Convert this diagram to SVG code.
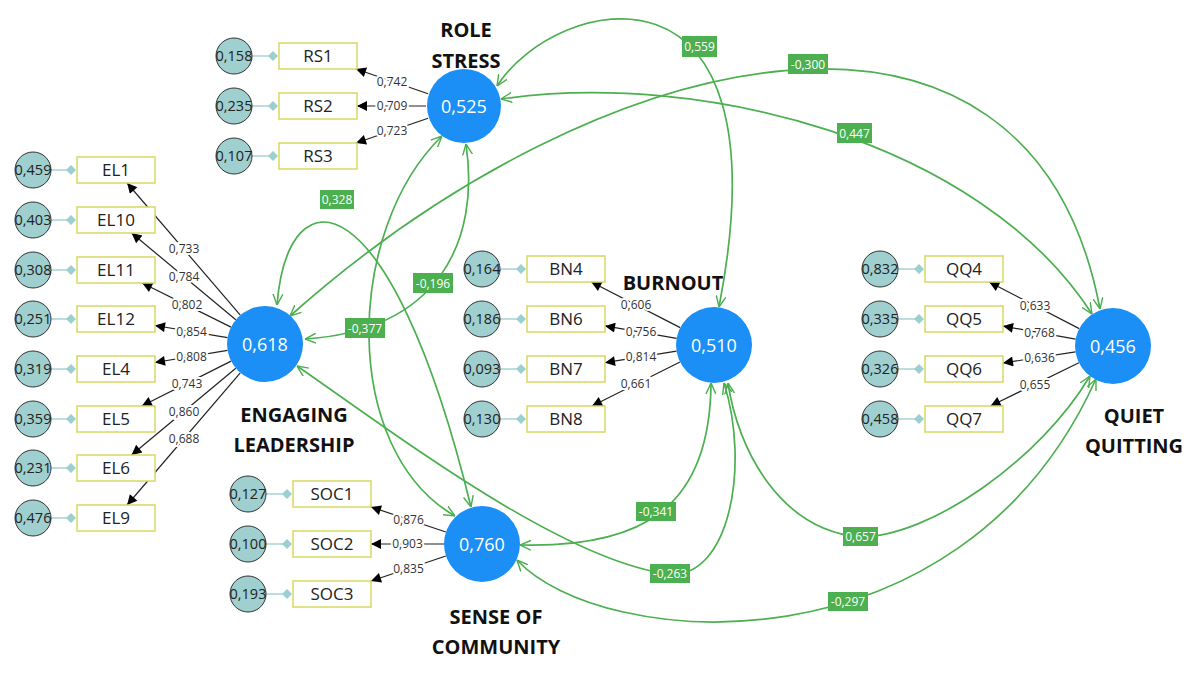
<svg xmlns="http://www.w3.org/2000/svg" width="1200" height="675" viewBox="0 0 1200 675">
<defs>
<style>
.lat{fill:#1b8ff5}
.lv{font-family:"Open Sans","Noto Sans",sans-serif;font-size:18px;fill:#fff;text-anchor:middle}
.ttl{font-family:"Open Sans","Noto Sans",sans-serif;font-size:20px;font-weight:bold;fill:#111;text-anchor:middle}
.box{fill:#fff;stroke:#d8d860;stroke-width:1.5}
.bt{font-family:"Open Sans","Noto Sans",sans-serif;font-size:17px;fill:#222;text-anchor:middle}
.err{fill:#9fcfcf;stroke:#333;stroke-width:1}
.et{font-family:"Open Sans","Noto Sans",sans-serif;font-size:14.5px;fill:#222;text-anchor:middle}
.el{stroke:#a6d3d3;stroke-width:1.5}
.dm{fill:#9ccfd0}
.ld{stroke:#222;stroke-width:1.2;fill:none;marker-end:url(#ba)}
.lt{font-family:"Open Sans","Noto Sans",sans-serif;font-size:12px;fill:#333;text-anchor:middle;stroke:#fff;stroke-width:4;paint-order:stroke}
.gc{fill:none;stroke:#4caf50;stroke-width:1.7;marker-start:url(#ga);marker-end:url(#ga)}
.gl{fill:#4caf50}
.gt{font-family:"Open Sans","Noto Sans",sans-serif;font-size:12px;fill:#fff;text-anchor:middle}
</style>
<marker id="ga" viewBox="0 0 10 10" refX="10" refY="5" markerWidth="11" markerHeight="11" markerUnits="userSpaceOnUse" orient="auto-start-reverse"><path d="M0,0.5 L10,5 L0,9.5" fill="none" stroke="#4caf50" stroke-width="1.3"/></marker>
<marker id="ba" viewBox="0 0 10 10" refX="10" refY="5" markerWidth="12" markerHeight="10" markerUnits="userSpaceOnUse" orient="auto"><path d="M0,0 L10,5 L0,10 z" fill="#000"/></marker>
</defs>
<rect width="1200" height="675" fill="#fff"/>

<g id="connectors">
<path class="gc" d="M497,86 C555,-5 790,-60 719,307"/>
<path class="gc" d="M290,316 C600,40 1030,-60 1100,309"/>
<path class="gc" d="M501,99 C700,70 980,140 1092,314"/>
<path class="gc" d="M277,305 C288,170 390,175 471,507"/>
<path class="gc" d="M442,136 C345,230 340,450 455,516"/>
<path class="gc" d="M466,144 C480,240 440,330 305,339"/>
<path class="gc" d="M520,545 C640,548 710,510 711,383"/>
<path class="gc" d="M297,366 C390,430 560,560 668,574 C730,580 750,465 724,383"/>
<path class="gc" d="M728,383 C738,450 780,530 860,537 C930,537 1040,460 1090,376"/>
<path class="gc" d="M517,560 C600,650 960,680 1096,379"/>

<rect class="gl" x="682" y="36" width="35" height="21"/><text class="gt" x="699.5" y="51">0,559</text>
<rect class="gl" x="788" y="54" width="40" height="20"/><text class="gt" x="808" y="68.5">-0,300</text>
<rect class="gl" x="837" y="123" width="35" height="20"/><text class="gt" x="854.5" y="137.5">0,447</text>
<rect class="gl" x="320" y="190" width="34" height="19"/><text class="gt" x="337" y="204">0,328</text>
<rect class="gl" x="413" y="273" width="40" height="20"/><text class="gt" x="433" y="287.5">-0,196</text>
<rect class="gl" x="345" y="318" width="40" height="20"/><text class="gt" x="365" y="332.5">-0,377</text>
<rect class="gl" x="636" y="502" width="40" height="19"/><text class="gt" x="656" y="516">-0,341</text>
<rect class="gl" x="650" y="564" width="40" height="19"/><text class="gt" x="670" y="578">-0,263</text>
<rect class="gl" x="843" y="527" width="35" height="19"/><text class="gt" x="860.5" y="541">0,657</text>
<rect class="gl" x="828" y="592" width="40" height="19"/><text class="gt" x="848" y="606">-0,297</text>

<path class="ld" d="M428.1,93.7 L356,69"/><text class="lt" x="392" y="85.5">0,742</text>
<path class="ld" d="M426,106 L357,106"/><text class="lt" x="392" y="110">0,709</text>
<path class="ld" d="M428.1,118.3 L356,143"/><text class="lt" x="392" y="135">0,723</text>

<path class="ld" d="M240.3,315.2 L127.1,183"/><text class="lt" x="184" y="253">0,733</text>
<path class="ld" d="M235.8,319.7 L131.6,233"/><text class="lt" x="184" y="280.5">0,784</text>
<path class="ld" d="M231,327.1 L142.2,283"/><text class="lt" x="187" y="309">0,802</text>
<path class="ld" d="M227.5,337.7 L155,325.5"/><text class="lt" x="191.5" y="335.5">0,854</text>
<path class="ld" d="M227.5,350.3 L155,362.5"/><text class="lt" x="191.5" y="360.5">0,808</text>
<path class="ld" d="M231.1,361.1 L141.8,406"/><text class="lt" x="187" y="387.5">0,743</text>
<path class="ld" d="M235.8,368.3 L131.6,455"/><text class="lt" x="184" y="416">0,860</text>
<path class="ld" d="M240.3,372.8 L127.1,505"/><text class="lt" x="184" y="443">0,688</text>

<path class="ld" d="M680.2,327.6 L591.3,282"/><text class="lt" x="636" y="309">0,606</text>
<path class="ld" d="M676.6,338.4 L605,325.9"/><text class="lt" x="641" y="336">0,756</text>
<path class="ld" d="M676.5,351.1 L605,362.7"/><text class="lt" x="641" y="361">0,814</text>
<path class="ld" d="M680,362 L592,406"/><text class="lt" x="636" y="388">0,661</text>

<path class="ld" d="M1079.2,328.6 L989.2,282"/><text class="lt" x="1035" y="309.5">0,633</text>
<path class="ld" d="M1075.6,339.2 L1003,326.1"/><text class="lt" x="1039.5" y="336.5">0,768</text>
<path class="ld" d="M1075.5,351.8 L1003,363"/><text class="lt" x="1039.5" y="361.5">0,636</text>
<path class="ld" d="M1078.9,362.7 L990.5,406"/><text class="lt" x="1035" y="388.5">0,655</text>

<path class="ld" d="M445.9,532 L371,507"/><text class="lt" x="408.5" y="523.5">0,876</text>
<path class="ld" d="M444,544 L371,544"/><text class="lt" x="407.5" y="548">0,903</text>
<path class="ld" d="M445.9,556 L371,581"/><text class="lt" x="408.5" y="572.5">0,835</text>
</g>

<g id="role-stress">
<circle class="lat" cx="464" cy="106" r="37"/><text class="lv" x="464" y="112.5">0,525</text>
<text class="ttl" x="466" y="37">ROLE</text><text class="ttl" x="466" y="68">STRESS</text>
</g>
<g id="engaging-leadership">
<circle class="lat" cx="265" cy="344" r="38"/><text class="lv" x="265" y="350.5">0,618</text>
<text class="ttl" x="294" y="422">ENGAGING</text><text class="ttl" x="294" y="452">LEADERSHIP</text>
</g>
<g id="burnout">
<circle class="lat" cx="714" cy="345" r="38"/><text class="lv" x="714" y="351.5">0,510</text>
<text class="ttl" x="673" y="290">BURNOUT</text>
</g>
<g id="quiet-quitting">
<circle class="lat" cx="1113" cy="346" r="38"/><text class="lv" x="1113" y="352.5">0,456</text>
<text class="ttl" x="1134" y="423">QUIET</text><text class="ttl" x="1134" y="453">QUITTING</text>
</g>
<g id="sense-of-community">
<circle class="lat" cx="482" cy="544" r="38"/><text class="lv" x="482" y="550.5">0,760</text>
<text class="ttl" x="496" y="624">SENSE OF</text><text class="ttl" x="496" y="654">COMMUNITY</text>
</g>

<g id="RS1"><line class="el" x1="252" y1="56" x2="273" y2="56"/><path class="dm" d="M273,51 L278,56 L273,61 L268,56 z"/><circle class="err" cx="234" cy="56" r="18"/><text class="et" x="234" y="61">0,158</text><rect class="box" x="279" y="43" width="78" height="26"/><text class="bt" x="318" y="62">RS1</text></g>
<g id="RS2"><line class="el" x1="252" y1="106" x2="273" y2="106"/><path class="dm" d="M273,101 L278,106 L273,111 L268,106 z"/><circle class="err" cx="234" cy="106" r="18"/><text class="et" x="234" y="111">0,235</text><rect class="box" x="279" y="93" width="78" height="26"/><text class="bt" x="318" y="112">RS2</text></g>
<g id="RS3"><line class="el" x1="252" y1="156" x2="273" y2="156"/><path class="dm" d="M273,151 L278,156 L273,161 L268,156 z"/><circle class="err" cx="234" cy="156" r="18"/><text class="et" x="234" y="161">0,107</text><rect class="box" x="279" y="143" width="78" height="26"/><text class="bt" x="318" y="162">RS3</text></g>

<g id="EL1"><line class="el" x1="51" y1="170" x2="71" y2="170"/><path class="dm" d="M71,165 L76,170 L71,175 L66,170 z"/><circle class="err" cx="33" cy="170" r="18"/><text class="et" x="33" y="175">0,459</text><rect class="box" x="77" y="157" width="78" height="26"/><text class="bt" x="116" y="176">EL1</text></g>
<g id="EL10"><line class="el" x1="51" y1="220" x2="71" y2="220"/><path class="dm" d="M71,215 L76,220 L71,225 L66,220 z"/><circle class="err" cx="33" cy="220" r="18"/><text class="et" x="33" y="225">0,403</text><rect class="box" x="77" y="207" width="78" height="26"/><text class="bt" x="116" y="226">EL10</text></g>
<g id="EL11"><line class="el" x1="51" y1="270" x2="71" y2="270"/><path class="dm" d="M71,265 L76,270 L71,275 L66,270 z"/><circle class="err" cx="33" cy="270" r="18"/><text class="et" x="33" y="275">0,308</text><rect class="box" x="77" y="257" width="78" height="26"/><text class="bt" x="116" y="276">EL11</text></g>
<g id="EL12"><line class="el" x1="51" y1="319" x2="71" y2="319"/><path class="dm" d="M71,314 L76,319 L71,324 L66,319 z"/><circle class="err" cx="33" cy="319" r="18"/><text class="et" x="33" y="324">0,251</text><rect class="box" x="77" y="306" width="78" height="26"/><text class="bt" x="116" y="325">EL12</text></g>
<g id="EL4"><line class="el" x1="51" y1="369" x2="71" y2="369"/><path class="dm" d="M71,364 L76,369 L71,374 L66,369 z"/><circle class="err" cx="33" cy="369" r="18"/><text class="et" x="33" y="374">0,319</text><rect class="box" x="77" y="356" width="78" height="26"/><text class="bt" x="116" y="375">EL4</text></g>
<g id="EL5"><line class="el" x1="51" y1="419" x2="71" y2="419"/><path class="dm" d="M71,414 L76,419 L71,424 L66,419 z"/><circle class="err" cx="33" cy="419" r="18"/><text class="et" x="33" y="424">0,359</text><rect class="box" x="77" y="406" width="78" height="26"/><text class="bt" x="116" y="425">EL5</text></g>
<g id="EL6"><line class="el" x1="51" y1="468" x2="71" y2="468"/><path class="dm" d="M71,463 L76,468 L71,473 L66,468 z"/><circle class="err" cx="33" cy="468" r="18"/><text class="et" x="33" y="473">0,231</text><rect class="box" x="77" y="455" width="78" height="26"/><text class="bt" x="116" y="474">EL6</text></g>
<g id="EL9"><line class="el" x1="51" y1="518" x2="71" y2="518"/><path class="dm" d="M71,513 L76,518 L71,523 L66,518 z"/><circle class="err" cx="33" cy="518" r="18"/><text class="et" x="33" y="523">0,476</text><rect class="box" x="77" y="505" width="78" height="26"/><text class="bt" x="116" y="524">EL9</text></g>

<g id="BN4"><line class="el" x1="500" y1="269" x2="521" y2="269"/><path class="dm" d="M521,264 L526,269 L521,274 L516,269 z"/><circle class="err" cx="482" cy="269" r="18"/><text class="et" x="482" y="274">0,164</text><rect class="box" x="527" y="256" width="78" height="26"/><text class="bt" x="566" y="275">BN4</text></g>
<g id="BN6"><line class="el" x1="500" y1="319" x2="521" y2="319"/><path class="dm" d="M521,314 L526,319 L521,324 L516,319 z"/><circle class="err" cx="482" cy="319" r="18"/><text class="et" x="482" y="324">0,186</text><rect class="box" x="527" y="306" width="78" height="26"/><text class="bt" x="566" y="325">BN6</text></g>
<g id="BN7"><line class="el" x1="500" y1="369" x2="521" y2="369"/><path class="dm" d="M521,364 L526,369 L521,374 L516,369 z"/><circle class="err" cx="482" cy="369" r="18"/><text class="et" x="482" y="374">0,093</text><rect class="box" x="527" y="356" width="78" height="26"/><text class="bt" x="566" y="375">BN7</text></g>
<g id="BN8"><line class="el" x1="500" y1="419" x2="521" y2="419"/><path class="dm" d="M521,414 L526,419 L521,424 L516,419 z"/><circle class="err" cx="482" cy="419" r="18"/><text class="et" x="482" y="424">0,130</text><rect class="box" x="527" y="406" width="78" height="26"/><text class="bt" x="566" y="425">BN8</text></g>

<g id="QQ4"><line class="el" x1="898" y1="269" x2="919" y2="269"/><path class="dm" d="M919,264 L924,269 L919,274 L914,269 z"/><circle class="err" cx="880" cy="269" r="18"/><text class="et" x="880" y="274">0,832</text><rect class="box" x="925" y="256" width="78" height="26"/><text class="bt" x="964" y="275">QQ4</text></g>
<g id="QQ5"><line class="el" x1="898" y1="319" x2="919" y2="319"/><path class="dm" d="M919,314 L924,319 L919,324 L914,319 z"/><circle class="err" cx="880" cy="319" r="18"/><text class="et" x="880" y="324">0,335</text><rect class="box" x="925" y="306" width="78" height="26"/><text class="bt" x="964" y="325">QQ5</text></g>
<g id="QQ6"><line class="el" x1="898" y1="369" x2="919" y2="369"/><path class="dm" d="M919,364 L924,369 L919,374 L914,369 z"/><circle class="err" cx="880" cy="369" r="18"/><text class="et" x="880" y="374">0,326</text><rect class="box" x="925" y="356" width="78" height="26"/><text class="bt" x="964" y="375">QQ6</text></g>
<g id="QQ7"><line class="el" x1="898" y1="419" x2="919" y2="419"/><path class="dm" d="M919,414 L924,419 L919,424 L914,419 z"/><circle class="err" cx="880" cy="419" r="18"/><text class="et" x="880" y="424">0,458</text><rect class="box" x="925" y="406" width="78" height="26"/><text class="bt" x="964" y="425">QQ7</text></g>

<g id="SOC1"><line class="el" x1="266" y1="494" x2="287" y2="494"/><path class="dm" d="M287,489 L292,494 L287,499 L282,494 z"/><circle class="err" cx="248" cy="494" r="18"/><text class="et" x="248" y="499">0,127</text><rect class="box" x="293" y="481" width="78" height="26"/><text class="bt" x="332" y="500">SOC1</text></g>
<g id="SOC2"><line class="el" x1="266" y1="544" x2="287" y2="544"/><path class="dm" d="M287,539 L292,544 L287,549 L282,544 z"/><circle class="err" cx="248" cy="544" r="18"/><text class="et" x="248" y="549">0,100</text><rect class="box" x="293" y="531" width="78" height="26"/><text class="bt" x="332" y="550">SOC2</text></g>
<g id="SOC3"><line class="el" x1="266" y1="594" x2="287" y2="594"/><path class="dm" d="M287,589 L292,594 L287,599 L282,594 z"/><circle class="err" cx="248" cy="594" r="18"/><text class="et" x="248" y="599">0,193</text><rect class="box" x="293" y="581" width="78" height="26"/><text class="bt" x="332" y="600">SOC3</text></g>
</svg>
